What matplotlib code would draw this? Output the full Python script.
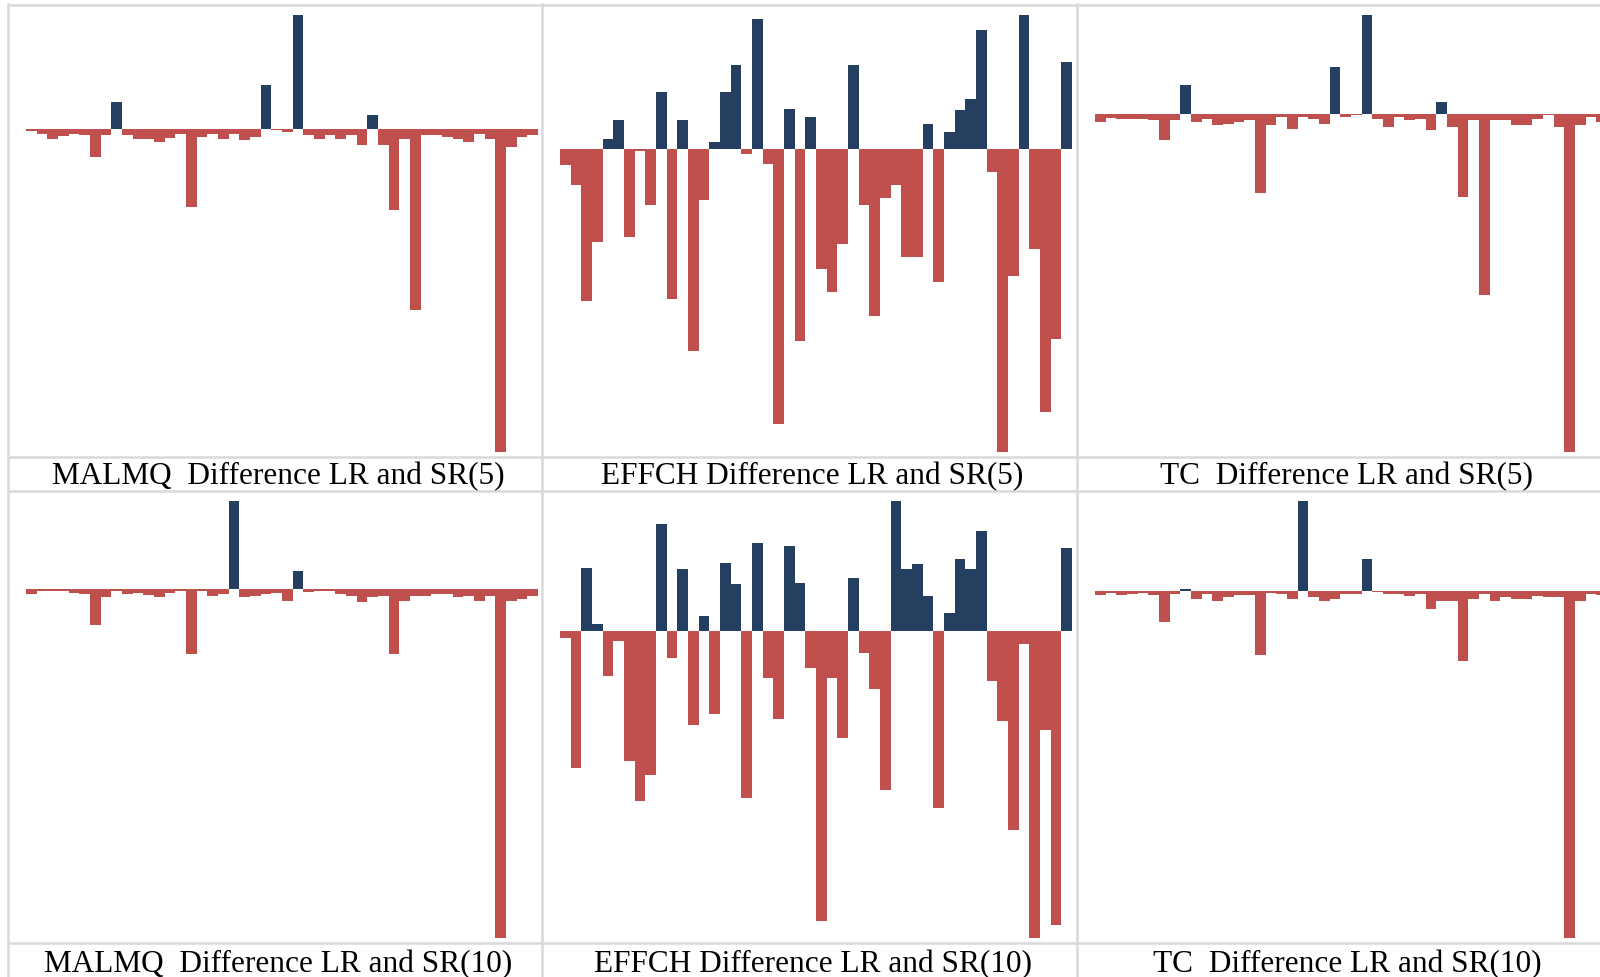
import matplotlib
matplotlib.use('Agg')
import matplotlib.pyplot as plt
from matplotlib.lines import Line2D
import numpy as np

# Differences LR - SR for the 48 units (scaled units)
malmq_5 = [-8, -15, -30, -22, -17, -20, -85, -20, 80, -20, -30, -30, -40, -27, -15, -236,
           -25, -15, -30, -15, -35, -25, 130, -5, -10, 340, -20, -30, -20, -30, -20, -50,
           40, -50, -245, -30, -546, -20, -20, -25, -30, -40, -15, -30, -972, -55, -25, -20]
effch_5 = [-50, -110, -457, -280, 30, 85, -265, -7, -170, 170, -452, 85, -607, -155, 20, 170,
           250, -15, 390, -46, -827, 120, -577, 95, -362, -432, -287, 250, -170, -502, -150, -110,
           -325, -325, 75, -402, 50, 115, 150, 355, -70, -912, -382, 400, -302, -792, -572, 260]
tc_5 = [-23, -10, -13, -13, -13, -17, -78, -17, 87, -23, -13, -33, -28, -23, -18, -238,
        -33, -8, -43, -8, -13, -28, 142, -8, -3, 297, -13, -38, -8, -18, -13, -48,
        37, -38, -248, -18, -543, -18, -18, -33, -33, -13, -3, -38, -1015, -33, -8, -23]
malmq_10 = [-13, -6, -6, -6, -10, -15, -108, -24, -6, -14, -10, -18, -24, -10, -6, -193,
            -6, -19, -13, 265, -24, -19, -15, -10, -34, 55, -9, -4, -4, -13, -19, -39,
            -24, -19, -193, -34, -19, -19, -15, -15, -24, -19, -34, -19, -1046, -34, -30, -20]
effch_10 = [-20, -410, 190, 20, -135, -30, -390, -510, -430, 320, -80, 185, -280, 45, -250, 205,
            140, -500, 265, -140, -265, 255, 145, -110, -870, -140, -320, 160, -65, -175, -475, 390,
            185, 200, 105, -530, 55, 215, 185, 300, -150, -270, -595, -40, -920, -295, -880, 250]
tc_10 = [-13, -6, -13, -9, -5, -13, -93, -8, 6, -23, -8, -29, -18, -13, -13, -193,
         -5, -10, -23, 270, -18, -29, -23, -8, -8, 95, -4, -8, -10, -14, -8, -53,
         -29, -29, -209, -23, -8, -29, -19, -23, -23, -14, -19, -19, -1041, -29, -8, -13]

titles_5 = ['MALMQ  Difference LR and SR(5)', 'EFFCH Difference LR and SR(5)',
            'TC  Difference LR and SR(5)']
titles_10 = ['MALMQ  Difference LR and SR(10)', 'EFFCH Difference LR and SR(10)',
             'TC  Difference LR and SR(10)']

blue = '#243f60'
red = '#c0504d'
grid_gray = '#d9d9d9'

W, H = 1600, 977
fig = plt.figure(figsize=(W / 100, H / 100), dpi=100)
fig.patch.set_facecolor('white')

# table layout in pixels
col_edges = [8, 542, 1077, 1611]
row_tops = [5.3, 491]
plot_h = 451.5
caption_base = [484.5, 972]
bars_left = 18       # gap between cell border and first bar
bars_w = 512         # width taken by the 48 bars
top_gap, bottom_gap = 10, 4.5

rows = [(malmq_5, effch_5, tc_5), (malmq_10, effch_10, tc_10)]
titles = [titles_5, titles_10]

for r in range(2):
    for c in range(3):
        x0, x1 = col_edges[c], col_edges[c + 1]
        top = row_tops[r]
        bottom = top + plot_h
        ax = fig.add_axes([x0 / W, 1 - bottom / H, (x1 - x0) / W, plot_h / H])
        vals = np.array(rows[r][c]) / 100.0
        n = len(vals)
        colors = [blue if v > 0 else red for v in vals]
        ax.bar(np.arange(n), vals, width=1.0, color=colors, linewidth=0)
        unit = bars_w / n
        ax.set_xlim(-0.5 - bars_left / unit, n - 0.5 + (x1 - x0 - bars_left - bars_w) / unit)
        span = vals.max() - vals.min()
        data_px = plot_h - top_gap - bottom_gap
        ax.set_ylim(vals.min() - bottom_gap / data_px * span, vals.max() + top_gap / data_px * span)
        ax.axis('off')
        fig.text(((x0 + x1) / 2 + 3) / W, 1 - caption_base[r] / H, titles[r][c],
                 ha='center', va='baseline', fontsize=22.5, family='Liberation Serif', color='black')

# light gray table lines
for y in [5.3, 456.5, 491, 943.3]:
    fig.add_artist(Line2D([8 / W, 1], [1 - y / H, 1 - y / H], transform=fig.transFigure,
                          color=grid_gray, linewidth=1.8))
for x in col_edges[:3]:
    fig.add_artist(Line2D([x / W, x / W], [1 - 4 / H, 0], transform=fig.transFigure,
                          color=grid_gray, linewidth=1.8))

fig.savefig('out.png', dpi=100)
